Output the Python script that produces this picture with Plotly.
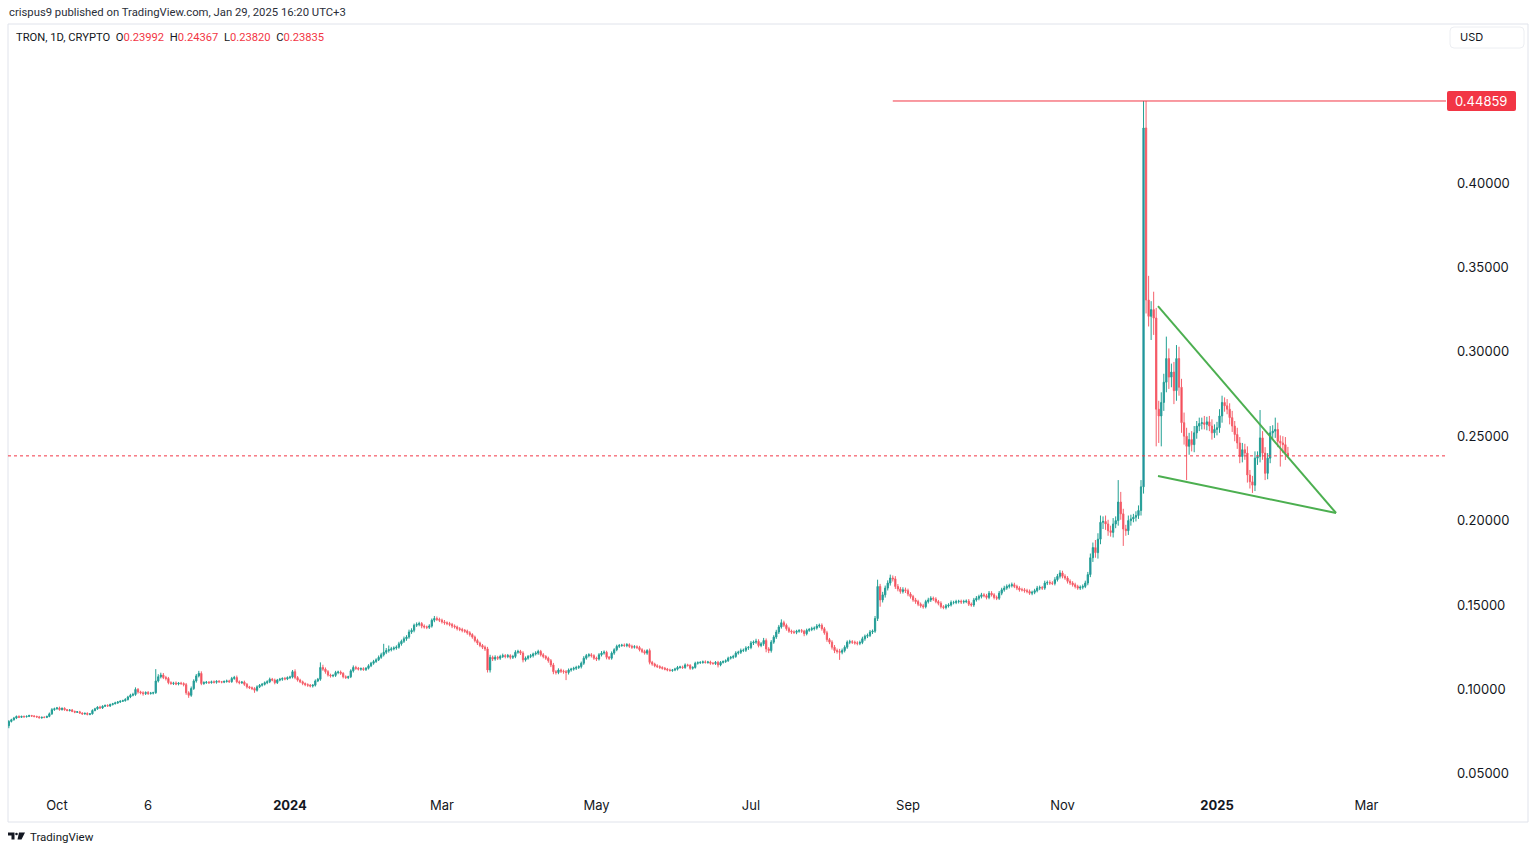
"""TRON (TRX/USD) daily candles, TradingView style snapshot."""
import pandas as pd
import plotly.graph_objects as go

# --- Data ---
START_DATE = "2023-09-12"
FIRST_OPEN = 78.5  # thousandths of a dollar
# daily closes in thousandths of a dollar (83.5 -> $0.0835), Sep 12 2023 .. Jan 29 2025
CLOSE = [
    81, 82, 83, 84, 83.5, 84, 83.8, 84, 84.5, 84.2,
    84, 83.7, 83.2, 83.5, 83.4, 84, 85.5, 88, 88.5, 89,
    88, 88.8, 88, 87.5, 87.8, 87, 86.5, 86.7, 86, 85.5,
    85.8, 85.2, 85.5, 87.5, 88.5, 89.5, 89, 90, 90.5, 90.2,
    91, 91.5, 92, 92.5, 93, 93.3, 94, 95.5, 96.5, 97,
    100, 98.5, 98, 97.5, 98.2, 97.6, 97.8, 98, 105, 107.5,
    108.5, 107, 106.5, 104, 103.5, 103.8, 103.2, 103.7, 103.5, 102.8,
    98, 96.5, 100.5, 105, 108, 109.5, 103.5, 104, 104.3, 104,
    104.5, 104.2, 104.8, 104.5, 104.3, 104.7, 105, 104.6, 106.5, 107,
    104.5, 104, 104.3, 103, 101.5, 101, 100.5, 99.5, 101.5, 102.5,
    103, 104, 104.5, 106, 105.5, 104, 105.5, 106, 106.5, 106.2,
    107, 107.3, 110.5, 107, 105.5, 104.5, 103.5, 102.8, 102.5, 102,
    102.5, 105, 106, 113, 112, 110.5, 108.5, 108, 108.3, 110,
    110.3, 109.5, 107.5, 107, 107.5, 111, 113, 112.5, 112, 112.3,
    111.8, 112.5, 114, 115.5, 116.5, 117.5, 119, 120.5, 122, 123,
    123.5, 124, 124.5, 125, 127, 128.5, 130, 131, 134, 135,
    138, 138.5, 139, 137.5, 137, 136.8, 137.5, 141, 142, 141.5,
    141, 140, 139.5, 139, 138.5, 137.5, 137, 136, 135.5, 135,
    134.5, 133.5, 132.5, 131, 129, 127.5, 126, 125, 124, 111.5,
    119, 118, 119, 118.5, 119.5, 120, 119.5, 120, 119, 119.5,
    122, 122.5, 121.5, 117.5, 118.5, 119.5, 120, 121, 121.5, 122.5,
    120.5, 119.5, 118.5, 117, 114.5, 110.5, 110, 111.5, 110.8, 110.5,
    110, 111.5, 112, 112.5, 113, 113.5, 115.5, 118.5, 120, 120.5,
    120, 118.5, 118, 120.5, 121.5, 122, 119, 118.5, 121.5, 123.5,
    125.5, 126, 126.2, 126, 126.5, 125.5, 125, 125.3, 124.8, 123.5,
    122.5, 121.5, 123, 116, 115, 114, 113.5, 113, 112.5, 112,
    111.5, 111.2, 111.5, 112, 113, 113.3, 113, 114.5, 114.2, 112.5,
    113, 115.5, 115.8, 116, 116.3, 116, 116.2, 115.5, 115.3, 116,
    114.5, 116, 116.5, 117, 118.5, 119, 119.5, 121.5, 122, 123,
    123.2, 124.5, 124.8, 127.5, 128, 128.5, 126, 127, 129, 124,
    123, 128, 131, 134, 137, 139.5, 138, 136, 134.5, 134,
    133.8, 134.5, 134.8, 134.5, 133, 135, 135.5, 136, 136.3, 137.5,
    138, 136, 133.5, 129.5, 128, 125, 123, 122.5, 122, 123,
    125, 128, 128.2, 128, 127.5, 127.3, 127.8, 130, 131.5, 132,
    134, 134.5, 142, 161, 153, 156, 160, 163, 166, 165.5,
    161, 159.5, 158, 159, 158.5, 156.5, 155, 153, 152, 150.5,
    149.5, 149, 152, 153, 154, 153.5, 152, 151, 149, 148.5,
    149.5, 150, 151.5, 151.5, 152, 152.2, 151.8, 152, 152.3, 150.5,
    150, 153, 154, 155, 156, 155.5, 154.5, 157, 156, 154.5,
    154, 157, 159, 160, 161, 161.5, 162, 161, 160, 159,
    159, 158.5, 158, 157, 157.5, 158.5, 160, 160.3, 160, 163,
    163.3, 163, 162.8, 165, 167, 169, 167, 166, 164, 163,
    162, 161, 160, 160.5, 161, 163, 168, 178, 184, 181,
    189, 199, 199.5, 198, 194, 193, 198, 200, 211, 204,
    195, 194, 200, 201, 202, 203, 206, 220, 432.6, 330.7,
    321, 325, 320, 266, 262, 270, 282, 296, 285, 288,
    277, 296, 279, 258, 250, 244, 248, 245, 252, 256,
    257.5, 258, 257, 258.5, 256, 252, 254, 255, 262, 270,
    268, 266, 261, 256, 251, 246, 238, 242, 240, 227,
    223, 221, 237, 238, 249, 240, 228, 237, 252, 253,
    254, 247, 246, 245, 239.92, 238.35,
]
# wick lengths above the body / below the body, thousandths of a dollar
UPPER_WICK = [
    0.8, 0.6, 0.7, 0.5, 0.6, 0.4, 0.5, 0.6, 0.5, 0.4,
    0.5, 0.4, 0.6, 0.3, 0.5, 0.4, 0.8, 0.9, 0.7, 0.6,
    0.8, 0.5, 0.6, 0.4, 0.5, 0.6, 0.4, 0.5, 0.6, 0.4,
    0.5, 0.6, 0.4, 0.7, 0.6, 0.5, 0.8, 0.6, 0.5, 0.7,
    0.6, 0.5, 0.7, 0.6, 0.5, 0.6, 0.8, 0.7, 0.9, 1.0,
    1.2, 0.8, 0.7, 0.9, 0.6, 0.8, 0.7, 0.6, 7.0, 1.5,
    1.4, 1.2, 1.0, 0.9, 0.8, 0.7, 0.9, 0.6, 0.8, 0.7,
    1.0, 0.9, 1.2, 1.0, 1.1, 1.5, 1.2, 0.8, 0.7, 0.6,
    0.7, 0.8, 0.6, 0.7, 0.5, 0.6, 0.8, 0.7, 0.9, 1.0,
    1.2, 0.8, 0.7, 0.9, 0.8, 0.6, 0.7, 0.8, 0.9, 0.7,
    0.8, 0.7, 0.9, 1.0, 0.8, 0.9, 0.7, 0.8, 0.6, 0.9,
    0.7, 0.8, 1.0, 1.4, 0.9, 0.8, 0.7, 0.6, 0.8, 0.7,
    0.6, 0.9, 0.8, 3.0, 1.6, 1.0, 0.9, 0.8, 0.7, 1.0,
    0.8, 0.9, 0.7, 0.8, 0.6, 0.9, 1.2, 1.0, 0.8, 0.7,
    0.8, 0.7, 0.9, 0.8, 1.0, 0.9, 1.1, 1.2, 5.0, 1.5,
    2.5, 1.2, 1.0, 1.1, 1.2, 1.0, 1.3, 1.1, 1.4, 1.2,
    1.0, 1.2, 1.1, 0.9, 1.0, 0.8, 1.1, 1.0, 1.5, 1.2,
    1.0, 0.9, 1.1, 0.8, 1.0, 0.9, 1.0, 0.8, 0.9, 1.0,
    0.8, 0.9, 1.0, 0.8, 0.9, 1.0, 0.8, 0.9, 1.0, 1.2,
    1.5, 1.0, 1.2, 0.9, 1.0, 1.2, 0.9, 1.0, 0.8, 1.0,
    1.2, 1.0, 0.9, 1.1, 1.0, 0.9, 1.0, 0.8, 1.1, 1.0,
    0.9, 1.0, 0.8, 0.9, 1.0, 1.2, 0.9, 1.0, 0.8, 0.9,
    1.0, 0.9, 0.8, 0.9, 1.0, 0.8, 1.0, 1.2, 1.0, 0.9,
    1.0, 0.8, 0.9, 1.0, 1.2, 1.1, 0.9, 0.8, 1.0, 0.9,
    1.0, 0.9, 0.8, 1.0, 0.9, 0.8, 1.0, 0.9, 0.8, 1.0,
    0.9, 1.0, 0.8, 1.2, 0.9, 0.8, 0.9, 0.8, 0.7, 0.8,
    0.7, 0.8, 0.6, 0.8, 0.9, 0.7, 0.8, 0.9, 0.7, 0.8,
    0.7, 0.9, 0.8, 0.7, 0.8, 0.9, 0.7, 0.8, 0.7, 0.8,
    0.9, 0.8, 0.7, 0.8, 0.9, 0.8, 1.0, 1.1, 0.9, 1.2,
    1.0, 1.1, 0.9, 1.2, 1.0, 1.5, 1.2, 1.0, 1.5, 1.2,
    1.0, 1.2, 1.1, 1.3, 1.2, 2.0, 1.2, 1.0, 1.1, 0.9,
    1.0, 0.8, 0.9, 1.0, 0.8, 1.0, 0.9, 1.1, 1.0, 1.2,
    1.0, 1.1, 1.0, 1.2, 1.0, 1.1, 1.3, 1.2, 1.5, 1.2,
    1.1, 1.0, 1.2, 1.0, 0.9, 1.0, 1.1, 1.2, 1.0, 1.1,
    1.2, 1.0, 1.5, 4.0, 1.5, 1.8, 1.5, 1.6, 2.0, 1.5,
    1.6, 1.4, 1.2, 1.5, 1.3, 1.2, 1.1, 1.0, 1.2, 1.1,
    1.0, 1.2, 1.1, 1.3, 1.2, 1.0, 1.1, 1.0, 1.2, 0.9,
    1.1, 1.0, 1.2, 1.0, 1.1, 0.9, 1.0, 1.1, 1.0, 1.2,
    1.0, 1.2, 1.3, 1.1, 1.2, 1.0, 1.1, 1.3, 1.2, 1.0,
    1.1, 1.3, 1.2, 1.4, 1.2, 1.1, 1.3, 1.2, 1.0, 1.1,
    1.2, 1.0, 1.1, 1.2, 1.0, 1.1, 1.3, 1.2, 1.0, 1.4,
    1.2, 1.3, 1.1, 1.5, 1.4, 1.6, 1.3, 1.2, 1.1, 1.2,
    1.1, 1.2, 1.0, 1.1, 1.2, 1.4, 1.6, 2.5, 3.0, 4.5,
    3.5, 4.0, 3.0, 3.5, 2.5, 3.0, 3.5, 2.5, 13.0, 6.0,
    3.0, 2.5, 3.0, 2.5, 2.0, 2.5, 3.0, 4.0, 15.99, 15.99,
    14.3, 5.0, 10.6, 6.0, 5.0, 6.0, 5.0, 13.0, 6.0, 5.0,
    6.0, 8.0, 7.0, 5.0, 6.0, 5.0, 4.0, 5.0, 4.0, 3.0,
    3.5, 3.0, 4.0, 3.0, 3.5, 4.0, 3.0, 3.5, 4.0, 4.0,
    3.0, 4.0, 3.5, 4.0, 3.0, 4.0, 3.5, 4.0, 3.5, 4.0,
    3.0, 3.5, 4.0, 3.0, 16.5, 4.0, 3.5, 3.0, 4.0, 3.5,
    7.0, 4.0, 3.5, 4.0, 4.5, 3.75,
]
LOWER_WICK = [
    1.5, 0.6, 0.5, 0.6, 0.5, 0.4, 0.6, 0.5, 0.4, 0.5,
    0.6, 0.5, 0.4, 0.6, 0.5, 0.4, 0.5, 0.6, 0.7, 0.5,
    0.6, 0.5, 0.7, 0.5, 0.6, 0.5, 0.6, 0.4, 0.5, 0.6,
    0.5, 0.6, 0.5, 0.4, 0.5, 0.6, 0.5, 0.6, 0.4, 0.5,
    0.6, 0.5, 0.4, 0.6, 0.5, 0.4, 0.5, 0.6, 0.7, 0.6,
    0.8, 1.0, 0.9, 1.2, 0.8, 0.9, 0.7, 0.8, 0.6, 0.9,
    1.0, 0.9, 1.2, 1.0, 0.8, 0.9, 0.7, 0.8, 0.9, 1.0,
    1.2, 1.5, 0.9, 0.8, 1.0, 0.9, 1.0, 0.8, 0.7, 0.8,
    0.6, 0.7, 0.8, 0.6, 0.7, 0.6, 0.7, 0.8, 0.7, 0.8,
    0.9, 1.0, 0.8, 0.9, 1.0, 0.8, 0.9, 1.5, 0.8, 0.7,
    0.8, 0.7, 0.9, 0.8, 0.7, 1.0, 0.8, 0.7, 0.9, 0.8,
    0.7, 0.9, 0.8, 1.0, 0.9, 0.8, 1.0, 0.9, 1.0, 0.8,
    0.9, 0.8, 0.7, 0.9, 1.0, 1.2, 0.9, 1.0, 0.8, 0.9,
    1.0, 0.9, 1.0, 0.8, 0.9, 0.8, 1.0, 0.9, 0.8, 0.9,
    0.8, 0.9, 0.7, 0.8, 0.9, 0.8, 0.7, 0.9, 1.0, 1.1,
    1.2, 1.0, 0.9, 1.0, 0.9, 1.1, 1.0, 1.2, 1.0, 1.1,
    1.2, 1.0, 1.1, 1.3, 1.0, 1.1, 1.0, 0.9, 1.2, 1.0,
    1.1, 1.0, 1.2, 1.0, 1.1, 1.2, 1.0, 1.1, 1.0, 1.2,
    1.0, 1.1, 1.2, 1.0, 1.1, 1.2, 1.0, 1.1, 1.2, 1.5,
    1.5, 1.2, 1.0, 1.1, 1.0, 0.9, 1.1, 1.0, 1.2, 1.0,
    1.0, 0.9, 1.1, 1.5, 1.0, 0.9, 1.0, 1.1, 0.9, 1.0,
    1.0, 1.1, 1.0, 1.2, 1.3, 1.5, 1.2, 1.0, 1.1, 1.2,
    4.5, 1.2, 1.0, 0.9, 1.0, 0.9, 1.1, 1.0, 0.9, 1.0,
    1.1, 1.0, 1.2, 0.9, 1.0, 0.9, 1.2, 1.0, 0.9, 1.0,
    0.9, 1.0, 0.8, 0.9, 1.0, 0.9, 1.0, 0.8, 0.9, 1.0,
    1.0, 0.9, 1.0, 1.2, 1.0, 0.9, 0.8, 0.9, 0.8, 0.7,
    0.8, 0.7, 0.8, 0.7, 0.8, 0.7, 0.9, 0.8, 0.7, 0.9,
    0.8, 0.7, 0.8, 0.7, 0.8, 0.7, 0.8, 0.9, 0.7, 0.8,
    1.5, 0.8, 0.7, 0.8, 0.7, 0.8, 0.9, 0.8, 0.9, 1.0,
    0.9, 1.0, 1.1, 1.0, 1.2, 1.0, 1.1, 1.0, 1.2, 2.0,
    1.5, 1.2, 1.0, 1.1, 1.2, 1.0, 1.1, 1.2, 1.0, 1.1,
    1.0, 1.1, 0.9, 1.0, 1.5, 1.0, 0.9, 1.0, 1.1, 0.9,
    1.0, 1.2, 1.1, 1.3, 1.2, 1.4, 1.5, 1.3, 4.5, 1.2,
    1.1, 1.0, 1.2, 1.1, 1.0, 1.2, 1.1, 1.0, 1.2, 1.1,
    1.0, 1.2, 1.0, 1.5, 4.0, 1.5, 1.6, 1.4, 1.5, 1.6,
    1.5, 1.4, 1.3, 1.2, 1.4, 1.3, 1.2, 1.1, 1.3, 1.2,
    1.1, 1.2, 1.0, 1.1, 1.2, 1.1, 1.0, 1.2, 1.1, 1.0,
    1.1, 1.0, 0.9, 1.1, 1.0, 1.1, 1.2, 1.0, 0.9, 1.1,
    1.0, 1.1, 1.0, 1.2, 1.1, 1.0, 1.2, 1.1, 1.0, 1.2,
    1.1, 1.0, 1.2, 1.1, 1.0, 1.2, 1.1, 1.0, 1.2, 1.1,
    1.0, 1.2, 1.1, 1.0, 1.2, 1.1, 1.0, 1.2, 1.1, 1.0,
    1.2, 1.1, 1.0, 1.2, 1.1, 1.3, 1.2, 1.1, 1.3, 1.2,
    1.1, 1.2, 1.0, 1.1, 1.2, 1.0, 1.3, 1.5, 2.5, 3.0,
    3.5, 3.0, 4.0, 3.5, 3.0, 2.5, 3.0, 2.5, 3.0, 3.5,
    10.0, 3.0, 2.5, 3.0, 2.0, 2.5, 2.0, 3.0, 4.0, 8.0,
    6.0, 14.0, 10.0, 22.0, 16.0, 18.0, 5.0, 6.0, 7.0, 6.0,
    8.0, 6.0, 5.0, 6.0, 5.0, 20.0, 5.0, 4.0, 4.5, 3.5,
    3.0, 3.5, 3.0, 3.5, 3.0, 4.0, 3.0, 3.5, 3.0, 4.0,
    3.5, 3.0, 4.0, 3.5, 4.0, 3.5, 4.0, 3.5, 4.0, 4.5,
    4.0, 4.6, 3.5, 4.0, 3.5, 4.0, 4.0, 3.5, 3.0, 3.5,
    4.0, 3.5, 14.0, 5.0, 4.0, 0.15,
]

ALL_TIME_HIGH = 0.44859
HIGH_LINE_START = "2024-08-26"
# falling wedge drawn on the chart: (date, price) end points
WEDGE_UPPER = [("2024-12-08 17:00", 0.3271), ("2025-02-17", 0.2045)]
WEDGE_LOWER = [("2024-12-08 17:00", 0.2264), ("2025-02-17", 0.2045)]

X_TICKS = ["2023-10-01", "2023-11-06", "2024-01-01", "2024-03-01", "2024-05-01",
           "2024-07-01", "2024-09-01", "2024-11-01", "2025-01-01", "2025-03-01"]
X_TICK_TEXT = ["Oct", "6", "<b>2024</b>", "Mar", "May", "Jul", "Sep", "Nov",
               "<b>2025</b>", "Mar"]
Y_TICKS = [0.05, 0.10, 0.15, 0.20, 0.25, 0.30, 0.35, 0.40]

# --- Style ---
UP_LINE = "#22a093"
UP_FILL = "#2a7ab8"
DOWN_LINE = "#f5606b"
DOWN_FILL = "#f23645"
TEXT = "#131722"
BORDER = "#e0e3eb"
WEDGE_GREEN = "#4caf50"
FONT = "Inter, Roboto, sans-serif"
SMALL_FONT = "Roboto, Inter, sans-serif"

# --- Canvas (pixels) ---
FIG_W, FIG_H = 1536, 852
PLOT_L, PLOT_R, PLOT_T, PLOT_B = 8, 1446, 24, 790
X_RANGE = ["2023-09-11 16:00", "2025-04-01 10:00"]
Y_RANGE = [0.0404, 0.4942]


def px(x):
    """Pixel x -> paper x."""
    return (x - PLOT_L) / (PLOT_R - PLOT_L)


def py(y):
    """Pixel y -> paper y."""
    return (PLOT_B - y) / (PLOT_B - PLOT_T)


def rounded_rect(x0, y0, x1, y1, r):
    """SVG path of a rounded rectangle, pixel input, paper output."""
    rx = r / (PLOT_R - PLOT_L)
    ry = r / (PLOT_B - PLOT_T)
    a, b, c, d = px(x0), py(y1), px(x1), py(y0)
    return (f"M{a + rx},{b} L{c - rx},{b} Q{c},{b} {c},{b + ry} L{c},{d - ry} "
            f"Q{c},{d} {c - rx},{d} L{a + rx},{d} Q{a},{d} {a},{d - ry} "
            f"L{a},{b + ry} Q{a},{b} {a + rx},{b} Z")


def label(x, y, text, size, color=TEXT, family=FONT, anchor="left"):
    """Text placed by pixel position (x = anchor edge, y = middle)."""
    fig.add_annotation(x=px(x), y=py(y), xref="paper", yref="paper",
                       xanchor=anchor, yanchor="middle", text=text, showarrow=False,
                       font=dict(family=family, size=size, color=color))


dates = pd.date_range(START_DATE, periods=len(CLOSE), freq="D")
close = [c / 1000 for c in CLOSE]
opens = [FIRST_OPEN / 1000] + close[:-1]
high = [max(o, c) + u / 1000 for o, c, u in zip(opens, close, UPPER_WICK)]
low = [min(o, c) - w / 1000 for o, c, w in zip(opens, close, LOWER_WICK)]

fig = go.Figure(go.Candlestick(
    x=dates, open=opens, high=high, low=low, close=close,
    increasing=dict(line=dict(color=UP_LINE, width=1), fillcolor=UP_FILL),
    decreasing=dict(line=dict(color=DOWN_LINE, width=1), fillcolor=DOWN_FILL),
    whiskerwidth=0, showlegend=False,
))

# last price (dotted) and all-time high (solid)
fig.add_shape(type="line", xref="x", yref="y", x0=X_RANGE[0], x1=X_RANGE[1],
              y0=close[-1], y1=close[-1], line=dict(color=DOWN_FILL, width=1, dash="dot"))
fig.add_shape(type="line", xref="x", yref="y", x0=HIGH_LINE_START, x1=X_RANGE[1],
              y0=ALL_TIME_HIGH, y1=ALL_TIME_HIGH, line=dict(color=DOWN_FILL, width=1))

# falling wedge
for (xa, ya), (xb, yb) in (WEDGE_UPPER, WEDGE_LOWER):
    fig.add_shape(type="line", xref="x", yref="y", x0=xa, y0=ya, x1=xb, y1=yb,
                  line=dict(color=WEDGE_GREEN, width=2))

# chart frame
fig.add_shape(type="rect", xref="paper", yref="paper", x0=px(8), y0=py(822),
              x1=px(1528), y1=py(24), line=dict(color=BORDER, width=1), layer="below")

# ATH price tag on the axis
fig.add_shape(type="path", xref="paper", yref="paper",
              path=rounded_rect(1447, 91, 1516, 111, 2),
              fillcolor=DOWN_FILL, line=dict(width=0))
label(1481.5, 101, f"{ALL_TIME_HIGH:.5f}", 13, color="white", anchor="center")

# currency button
fig.add_shape(type="path", xref="paper", yref="paper",
              path=rounded_rect(1450, 27, 1524, 48, 4),
              fillcolor="white", line=dict(color="#eceef2", width=1))
label(1458, 37.5, "USD", 11)

# header texts
label(7, 13, "crispus9 published on TradingView.com, Jan 29, 2025 16:20 UTC+3", 11.3,
      color="#2a2e39", family=SMALL_FONT)
red = f"color:{DOWN_FILL}"
nb = "\u00a0"
legend = (f"TRON, 1D, CRYPTO{nb}{nb}"
          f"O<span style='{red}'>{opens[-1]:.5f}</span>{nb}{nb}"
          f"H<span style='{red}'>{high[-1]:.5f}</span>{nb}{nb}"
          f"L<span style='{red}'>{low[-1]:.5f}</span>{nb}{nb}"
          f"C<span style='{red}'>{close[-1]:.5f}</span>")
label(14, 37, legend, 11.2, family=SMALL_FONT)

# TradingView logo and wordmark
fig.add_shape(type="path", xref="paper", yref="paper", fillcolor=TEXT, line=dict(width=0),
              path=(f"M{px(8)},{py(832.5)} L{px(14.5)},{py(832.5)} L{px(14.5)},{py(839.5)} "
                    f"L{px(11.5)},{py(839.5)} L{px(11.5)},{py(835.5)} L{px(8)},{py(835.5)} Z"))
fig.add_shape(type="circle", xref="paper", yref="paper", fillcolor=TEXT, line=dict(width=0),
              x0=px(15.2), x1=px(17.8), y0=py(835.3), y1=py(832.7))
fig.add_shape(type="path", xref="paper", yref="paper", fillcolor=TEXT, line=dict(width=0),
              path=(f"M{px(19)},{py(832.5)} L{px(25)},{py(832.5)} L{px(21.5)},{py(839.5)} "
                    f"L{px(17.5)},{py(839.5)} Z"))
label(28, 836.5, "TradingView", 11.5, family=SMALL_FONT)

fig.update_layout(
    width=FIG_W, height=FIG_H,
    margin=dict(l=PLOT_L, r=FIG_W - PLOT_R, t=PLOT_T, b=FIG_H - PLOT_B),
    paper_bgcolor="white", plot_bgcolor="white",
    font=dict(family=FONT, size=13, color=TEXT),
    xaxis=dict(type="date", range=X_RANGE, rangeslider=dict(visible=False),
               showgrid=False, zeroline=False, showline=False,
               tickvals=X_TICKS, ticktext=X_TICK_TEXT, ticks="",
               ticklabelstandoff=6, tickfont=dict(family=FONT, size=13, color=TEXT)),
    yaxis=dict(side="right", range=Y_RANGE, showgrid=False, zeroline=False,
               showline=False, tickvals=Y_TICKS,
               ticktext=[f"{v:.5f}" for v in Y_TICKS], ticks="",
               ticklabelstandoff=10, tickfont=dict(family=FONT, size=13, color=TEXT)),
    hovermode=False,
)

# the page's default body margin would shift the figure by 8px
fig.write_html("out.html", config={"displayModeBar": False},
               post_script="document.body.style.margin = '0';")
